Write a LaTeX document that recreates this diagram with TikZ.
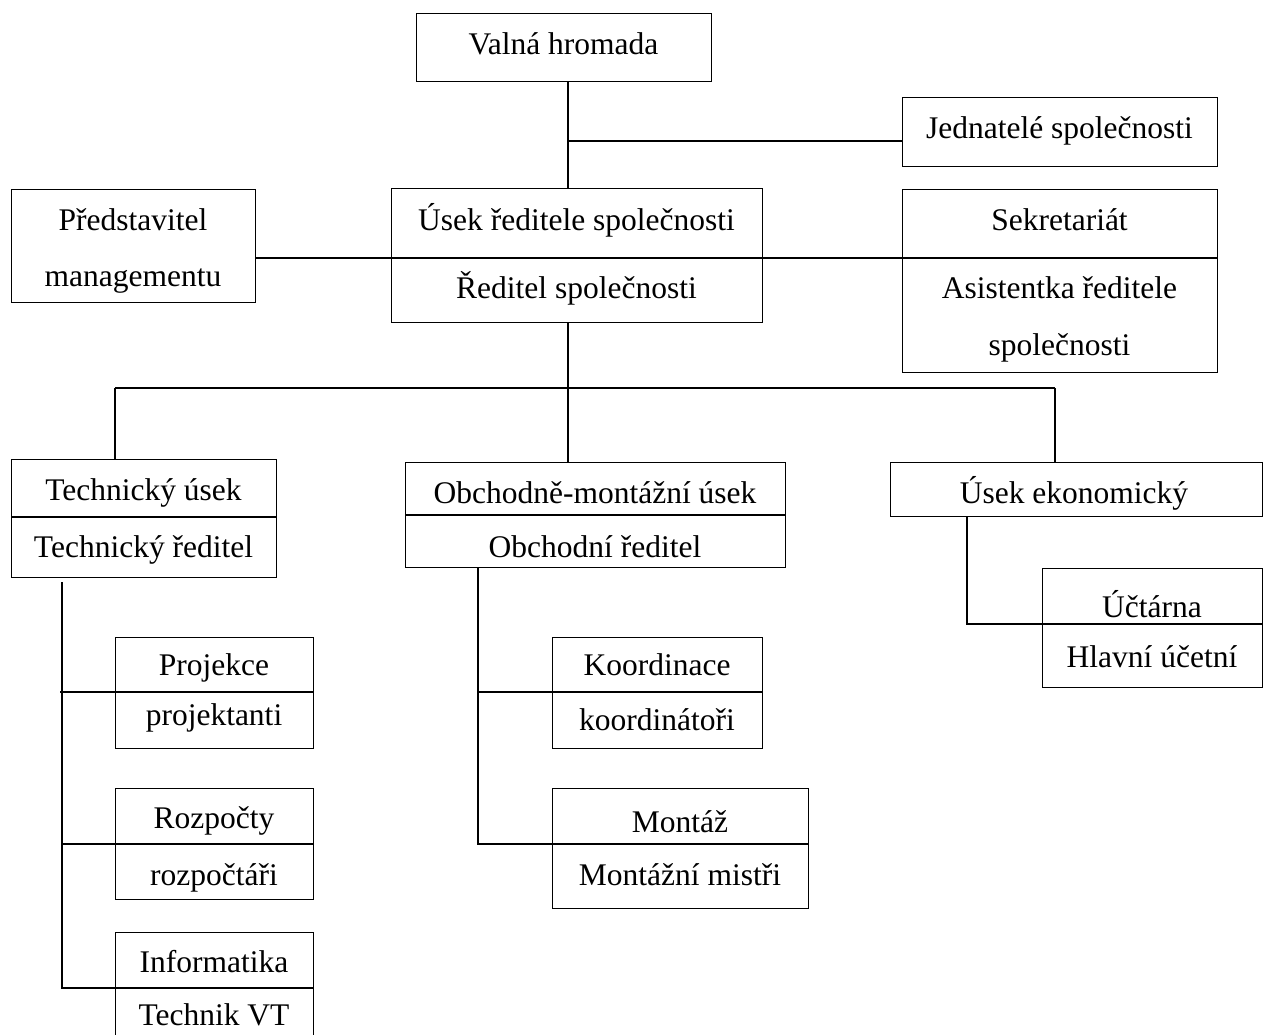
\documentclass[tikz,border=0pt]{standalone}
\usepackage{fontspec}
\setmainfont{Liberation Serif}
\begin{document}
\begin{tikzpicture}[x=1pt,y=-1pt,
  box/.style={draw, line width=1.4pt, inner sep=0pt, anchor=north west},
  txt/.style={inner sep=0pt, anchor=base, font=\fontsize{31.5}{36}\selectfont},
  conn/.style={line width=1.4pt}]
\useasboundingbox[fill=white] (0,0) rectangle (1269,1035);
% boxes
\node[box, minimum width=295pt, minimum height=68pt] (vh) at (416,13) {};
\node[box, minimum width=315pt, minimum height=69pt] (jed) at (902,97) {};
\node[box, minimum width=244pt, minimum height=113pt] (pm) at (11,189) {};
\node[box, minimum width=371pt, minimum height=134pt] (ured) at (391,188) {};
\node[box, minimum width=315pt, minimum height=183pt] (sek) at (902,189) {};
\node[box, minimum width=265pt, minimum height=118pt] (tech) at (11,459) {};
\node[box, minimum width=380pt, minimum height=105pt] (obch) at (405,462) {};
\node[box, minimum width=372pt, minimum height=54pt] (ek) at (890,462) {};
\node[box, minimum width=220pt, minimum height=119pt] (uct) at (1042,568) {};
\node[box, minimum width=198pt, minimum height=111pt] (proj) at (115,637) {};
\node[box, minimum width=198pt, minimum height=111pt] (roz) at (115,788) {};
\node[box, minimum width=198pt, minimum height=115pt] (inf) at (115,932) {};
\node[box, minimum width=210pt, minimum height=111pt] (koo) at (552,637) {};
\node[box, minimum width=256pt, minimum height=120pt] (mon) at (552,788) {};
% divider coordinates
\coordinate (uredd) at (391,258);
\coordinate (sekd) at (902,258);
\coordinate (techd) at (11,517);
\coordinate (obchd) at (405,515);
\coordinate (uctd) at (1042,624);
\coordinate (projd) at (115,692);
\coordinate (rozd) at (115,844);
\coordinate (infd) at (115,988);
\coordinate (kood) at (552,692);
\coordinate (mond) at (552,844);
% dividers
\draw[conn] (sekd) -- (sek.east |- sekd);
\draw[conn] (techd) -- (tech.east |- techd);
\draw[conn] (obchd) -- (obch.east |- obchd);
\draw[conn] (uctd) -- (uct.east |- uctd);
\draw[conn] (projd) -- (proj.east |- projd);
\draw[conn] (rozd) -- (roz.east |- rozd);
\draw[conn] (infd) -- (inf.east |- infd);
\draw[conn] (kood) -- (koo.east |- kood);
\draw[conn] (mond) -- (mon.east |- mond);
% texts
\node[txt] (t1) at (563.5,55) {Valná hromada};
\node[txt] (t2) at (1059.5,139) {Jednatelé společnosti};
\node[txt] (t3) at (133,230) {Představitel};
\node[txt] (t4) at (133,286) {managementu};
\node[txt] (t5) at (576.5,230) {Úsek ředitele společnosti};
\node[txt] (t6) at (576.5,298) {Ředitel společnosti};
\node[txt] (t7) at (1059.5,230) {Sekretariát};
\node[txt] (t8) at (1059.5,298) {Asistentka ředitele};
\node[txt] (t9) at (1059.5,355) {společnosti};
\node[txt] (t10) at (143.5,500) {Technický úsek};
\node[txt] (t11) at (143.5,557) {Technický ředitel};
\node[txt] (t12) at (595,503) {Obchodně-montážní úsek};
\node[txt] (t13) at (595,557) {Obchodní ředitel};
\node[txt] (t14) at (1074,503) {Úsek ekonomický};
\node[txt] (t15) at (1152,617) {Účtárna};
\node[txt] (t16) at (1152,667) {Hlavní účetní};
\node[txt] (t17) at (214,675) {Projekce};
\node[txt] (t18) at (214,725) {projektanti};
\node[txt] (t19) at (214,828) {Rozpočty};
\node[txt] (t20) at (214,885) {rozpočtáři};
\node[txt] (t21) at (214,972) {Informatika};
\node[txt] (t22) at (214,1025) {Technik VT};
\node[txt] (t23) at (657,675) {Koordinace};
\node[txt] (t24) at (657,730) {koordinátoři};
\node[txt] (t25) at (680,832) {Montáž};
\node[txt] (t26) at (680,885) {Montážní mistři};
% connectors
\coordinate (j1) at (568,141);
\draw[conn] (vh.south -| j1) -- (ured.north -| j1);
\draw[conn] (j1) -- (jed.west |- j1);
\draw[conn] (pm.east |- uredd) -- (sekd);
\coordinate (bar) at (568,388);
\coordinate (bL) at (115,388);
\coordinate (bR) at (1055,388);
\draw[conn] (ured.south -| bar) -- (obch.north -| bar);
\draw[conn] (bL) -- (bR);
\draw[conn] (bL) -- (tech.north -| bL);
\draw[conn] (bR) -- (ek.north -| bR);
\coordinate (tv) at (62,582);
\draw[conn] (tv) |- (infd);
\draw[conn] (60,692) -- (projd);
\draw[conn] (tv |- rozd) -- (rozd);
\coordinate (ov) at (478,568);
\draw[conn] (ov) |- (mond);
\draw[conn] (ov |- kood) -- (kood);
\coordinate (ev) at (967,516);
\draw[conn] (ev) |- (uctd);
\end{tikzpicture}
\end{document}
